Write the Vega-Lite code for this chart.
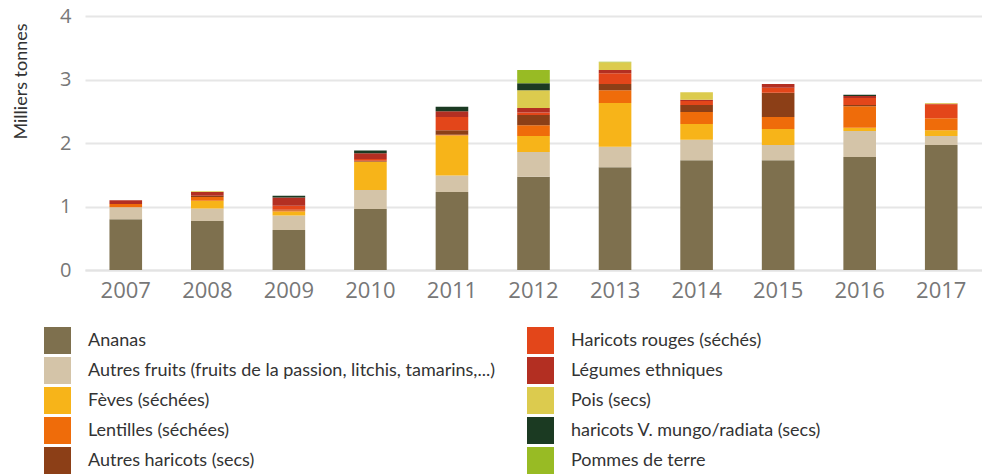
{
  "$schema": "https://vega.github.io/schema/vega-lite/v6.json",
  "width": 897,
  "height": 254,
  "autosize": {"type": "none"},
  "padding": {"left": 85, "top": 16, "right": 0, "bottom": 204},
  "background": "white",
  "config": {"view": {"stroke": null}},
  "data": {
    "values": [
      {"annee": "2007", "produit": "Ananas", "ord": 1, "valeur": 0.80},
      {"annee": "2007", "produit": "Autres fruits (fruits de la passion, litchis, tamarins,...)", "ord": 2, "valeur": 0.19},
      {"annee": "2007", "produit": "Lentilles (séchées)", "ord": 4, "valeur": 0.05},
      {"annee": "2007", "produit": "Légumes ethniques", "ord": 7, "valeur": 0.06},

      {"annee": "2008", "produit": "Ananas", "ord": 1, "valeur": 0.77},
      {"annee": "2008", "produit": "Autres fruits (fruits de la passion, litchis, tamarins,...)", "ord": 2, "valeur": 0.20},
      {"annee": "2008", "produit": "Fèves (séchées)", "ord": 3, "valeur": 0.12},
      {"annee": "2008", "produit": "Lentilles (séchées)", "ord": 4, "valeur": 0.06},
      {"annee": "2008", "produit": "Autres haricots (secs)", "ord": 5, "valeur": 0.02},
      {"annee": "2008", "produit": "Légumes ethniques", "ord": 7, "valeur": 0.06},
      {"annee": "2008", "produit": "Pois (secs)", "ord": 8, "valeur": 0.01},

      {"annee": "2009", "produit": "Ananas", "ord": 1, "valeur": 0.63},
      {"annee": "2009", "produit": "Autres fruits (fruits de la passion, litchis, tamarins,...)", "ord": 2, "valeur": 0.23},
      {"annee": "2009", "produit": "Fèves (séchées)", "ord": 3, "valeur": 0.06},
      {"annee": "2009", "produit": "Lentilles (séchées)", "ord": 4, "valeur": 0.02},
      {"annee": "2009", "produit": "Autres haricots (secs)", "ord": 5, "valeur": 0.01},
      {"annee": "2009", "produit": "Haricots rouges (séchés)", "ord": 6, "valeur": 0.06},
      {"annee": "2009", "produit": "Légumes ethniques", "ord": 7, "valeur": 0.13},
      {"annee": "2009", "produit": "haricots V. mungo/radiata (secs)", "ord": 9, "valeur": 0.03},

      {"annee": "2010", "produit": "Ananas", "ord": 1, "valeur": 0.96},
      {"annee": "2010", "produit": "Autres fruits (fruits de la passion, litchis, tamarins,...)", "ord": 2, "valeur": 0.30},
      {"annee": "2010", "produit": "Fèves (séchées)", "ord": 3, "valeur": 0.44},
      {"annee": "2010", "produit": "Lentilles (séchées)", "ord": 4, "valeur": 0.01},
      {"annee": "2010", "produit": "Autres haricots (secs)", "ord": 5, "valeur": 0.01},
      {"annee": "2010", "produit": "Haricots rouges (séchés)", "ord": 6, "valeur": 0.03},
      {"annee": "2010", "produit": "Légumes ethniques", "ord": 7, "valeur": 0.09},
      {"annee": "2010", "produit": "haricots V. mungo/radiata (secs)", "ord": 9, "valeur": 0.04},

      {"annee": "2011", "produit": "Ananas", "ord": 1, "valeur": 1.23},
      {"annee": "2011", "produit": "Autres fruits (fruits de la passion, litchis, tamarins,...)", "ord": 2, "valeur": 0.26},
      {"annee": "2011", "produit": "Fèves (séchées)", "ord": 3, "valeur": 0.63},
      {"annee": "2011", "produit": "Lentilles (séchées)", "ord": 4, "valeur": 0.01},
      {"annee": "2011", "produit": "Autres haricots (secs)", "ord": 5, "valeur": 0.07},
      {"annee": "2011", "produit": "Haricots rouges (séchés)", "ord": 6, "valeur": 0.21},
      {"annee": "2011", "produit": "Légumes ethniques", "ord": 7, "valeur": 0.09},
      {"annee": "2011", "produit": "haricots V. mungo/radiata (secs)", "ord": 9, "valeur": 0.07},

      {"annee": "2012", "produit": "Ananas", "ord": 1, "valeur": 1.47},
      {"annee": "2012", "produit": "Autres fruits (fruits de la passion, litchis, tamarins,...)", "ord": 2, "valeur": 0.39},
      {"annee": "2012", "produit": "Fèves (séchées)", "ord": 3, "valeur": 0.25},
      {"annee": "2012", "produit": "Lentilles (séchées)", "ord": 4, "valeur": 0.17},
      {"annee": "2012", "produit": "Autres haricots (secs)", "ord": 5, "valeur": 0.16},
      {"annee": "2012", "produit": "Haricots rouges (séchés)", "ord": 6, "valeur": 0.04},
      {"annee": "2012", "produit": "Légumes ethniques", "ord": 7, "valeur": 0.07},
      {"annee": "2012", "produit": "Pois (secs)", "ord": 8, "valeur": 0.28},
      {"annee": "2012", "produit": "haricots V. mungo/radiata (secs)", "ord": 9, "valeur": 0.11},
      {"annee": "2012", "produit": "Pommes de terre", "ord": 10, "valeur": 0.21},

      {"annee": "2013", "produit": "Ananas", "ord": 1, "valeur": 1.62},
      {"annee": "2013", "produit": "Autres fruits (fruits de la passion, litchis, tamarins,...)", "ord": 2, "valeur": 0.32},
      {"annee": "2013", "produit": "Fèves (séchées)", "ord": 3, "valeur": 0.69},
      {"annee": "2013", "produit": "Lentilles (séchées)", "ord": 4, "valeur": 0.20},
      {"annee": "2013", "produit": "Autres haricots (secs)", "ord": 5, "valeur": 0.10},
      {"annee": "2013", "produit": "Haricots rouges (séchés)", "ord": 6, "valeur": 0.17},
      {"annee": "2013", "produit": "Légumes ethniques", "ord": 7, "valeur": 0.05},
      {"annee": "2013", "produit": "Pois (secs)", "ord": 8, "valeur": 0.12},
      {"annee": "2013", "produit": "Pommes de terre", "ord": 10, "valeur": 0.01},

      {"annee": "2014", "produit": "Ananas", "ord": 1, "valeur": 1.73},
      {"annee": "2014", "produit": "Autres fruits (fruits de la passion, litchis, tamarins,...)", "ord": 2, "valeur": 0.32},
      {"annee": "2014", "produit": "Fèves (séchées)", "ord": 3, "valeur": 0.25},
      {"annee": "2014", "produit": "Lentilles (séchées)", "ord": 4, "valeur": 0.19},
      {"annee": "2014", "produit": "Autres haricots (secs)", "ord": 5, "valeur": 0.11},
      {"annee": "2014", "produit": "Haricots rouges (séchés)", "ord": 6, "valeur": 0.06},
      {"annee": "2014", "produit": "Légumes ethniques", "ord": 7, "valeur": 0.02},
      {"annee": "2014", "produit": "Pois (secs)", "ord": 8, "valeur": 0.12},

      {"annee": "2015", "produit": "Ananas", "ord": 1, "valeur": 1.73},
      {"annee": "2015", "produit": "Autres fruits (fruits de la passion, litchis, tamarins,...)", "ord": 2, "valeur": 0.24},
      {"annee": "2015", "produit": "Fèves (séchées)", "ord": 3, "valeur": 0.25},
      {"annee": "2015", "produit": "Lentilles (séchées)", "ord": 4, "valeur": 0.19},
      {"annee": "2015", "produit": "Autres haricots (secs)", "ord": 5, "valeur": 0.38},
      {"annee": "2015", "produit": "Haricots rouges (séchés)", "ord": 6, "valeur": 0.08},
      {"annee": "2015", "produit": "Légumes ethniques", "ord": 7, "valeur": 0.06},

      {"annee": "2016", "produit": "Ananas", "ord": 1, "valeur": 1.78},
      {"annee": "2016", "produit": "Autres fruits (fruits de la passion, litchis, tamarins,...)", "ord": 2, "valeur": 0.41},
      {"annee": "2016", "produit": "Fèves (séchées)", "ord": 3, "valeur": 0.05},
      {"annee": "2016", "produit": "Lentilles (séchées)", "ord": 4, "valeur": 0.34},
      {"annee": "2016", "produit": "Autres haricots (secs)", "ord": 5, "valeur": 0.02},
      {"annee": "2016", "produit": "Haricots rouges (séchés)", "ord": 6, "valeur": 0.11},
      {"annee": "2016", "produit": "Légumes ethniques", "ord": 7, "valeur": 0.03},
      {"annee": "2016", "produit": "haricots V. mungo/radiata (secs)", "ord": 9, "valeur": 0.02},

      {"annee": "2017", "produit": "Ananas", "ord": 1, "valeur": 1.97},
      {"annee": "2017", "produit": "Autres fruits (fruits de la passion, litchis, tamarins,...)", "ord": 2, "valeur": 0.14},
      {"annee": "2017", "produit": "Fèves (séchées)", "ord": 3, "valeur": 0.09},
      {"annee": "2017", "produit": "Lentilles (séchées)", "ord": 4, "valeur": 0.19},
      {"annee": "2017", "produit": "Haricots rouges (séchés)", "ord": 6, "valeur": 0.22},
      {"annee": "2017", "produit": "Légumes ethniques", "ord": 7, "valeur": 0.01},
      {"annee": "2017", "produit": "Pois (secs)", "ord": 8, "valeur": 0.01}
    ]
  },
  "mark": {"type": "bar"},
  "encoding": {
    "x": {
      "field": "annee",
      "type": "ordinal",
      "scale": {"paddingInner": 0.6, "paddingOuter": 0.3},
      "axis": {
        "title": null,
        "labelAngle": 0,
        "labelFont": "Open Sans",
        "labelFontSize": 22,
        "labelColor": "#777777",
        "labelPadding": 10,
        "domainColor": "#e3e3e3",
        "domainWidth": 2,
        "ticks": false,
        "grid": false
      }
    },
    "y": {
      "field": "valeur",
      "type": "quantitative",
      "stack": "zero",
      "scale": {"domain": [0, 4], "nice": false},
      "axis": {
        "title": "Milliers tonnes",
        "titleFont": "Lato",
        "titleFontSize": 18,
        "titleFontWeight": "normal",
        "titleColor": "#333333",
        "titleX": -55,
        "titleY": 65,
        "titleAngle": 270,
        "titleAlign": "center",
        "titleBaseline": "bottom",
        "values": [0, 1, 2, 3, 4],
        "labelOverlap": false,
        "labelFont": "Open Sans",
        "labelFontSize": 20,
        "labelColor": "#777777",
        "labelPadding": 14,
        "ticks": false,
        "domain": false,
        "grid": true,
        "gridColor": "#e6e6e6",
        "gridWidth": 2
      }
    },
    "color": {
      "field": "produit",
      "type": "nominal",
      "scale": {
        "domain": [
          "Ananas",
          "Haricots rouges (séchés)",
          "Autres fruits (fruits de la passion, litchis, tamarins,...)",
          "Légumes ethniques",
          "Fèves (séchées)",
          "Pois (secs)",
          "Lentilles (séchées)",
          "haricots V. mungo/radiata (secs)",
          "Autres haricots (secs)",
          "Pommes de terre"
        ],
        "range": [
          "#7e704e",
          "#e3461a",
          "#d4c4a8",
          "#b32f22",
          "#f7b419",
          "#dccb4e",
          "#ef6c0a",
          "#1b3a22",
          "#8c3f17",
          "#98bb24"
        ]
      },
      "legend": {
        "title": null,
        "orient": "none",
        "legendX": -41,
        "legendY": 311,
        "columns": 2,
        "direction": "horizontal",
        "symbolType": "square",
        "symbolSize": 729,
        "symbolStrokeWidth": 0,
        "labelFont": "Lato",
        "labelFontSize": 18,
        "labelColor": "#333333",
        "labelOffset": 17,
        "labelLimit": 600,
        "rowPadding": 3,
        "columnPadding": 32
      }
    },
    "order": {"field": "ord", "type": "quantitative", "sort": "ascending"}
  }
}
